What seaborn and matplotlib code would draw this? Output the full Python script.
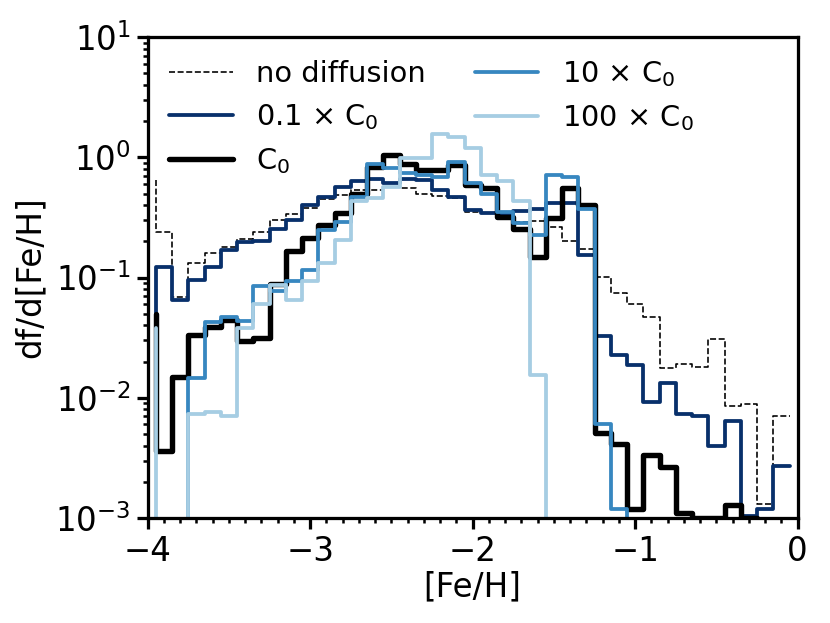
import numpy as np
import pandas as pd
import seaborn as sns
import matplotlib
matplotlib.use('Agg')
import matplotlib.pyplot as plt
from matplotlib.ticker import MultipleLocator

# step edges in [Fe/H]; first value of every series is the start point at -3.95
feh_edges = np.linspace(-3.95, -0.05, 40)

no_diffusion = [0.65, 0.24, 0.0695, 0.131, 0.159, 0.181, 0.209, 0.237, 0.301, 0.338,
                0.382, 0.448, 0.49, 0.53, 0.535, 0.57, 0.56, 0.50, 0.48, 0.456,
                0.353, 0.343, 0.311, 0.292, 0.296, 0.265, 0.203, 0.173, 0.102, 0.075,
                0.060, 0.0474, 0.0177, 0.0192, 0.0179, 0.031, 0.0085, 0.0089, 0.0013, 0.0070]
c0_01 = [0.04, 0.123, 0.065, 0.096, 0.122, 0.169, 0.199, 0.202, 0.254, 0.301,
         0.402, 0.471, 0.57, 0.635, 0.66, 0.615, 0.66, 0.65, 0.535, 0.471,
         0.365, 0.343, 0.335, 0.355, 0.37, 0.42, 0.42, 0.153, 0.0324, 0.0225,
         0.0186, 0.0093, 0.0132, 0.0074, 0.0071, 0.004, 0.0064, 0.00103, 0.0012, 0.0027]
c0_1 = [0.05, 0.0036, 0.015, 0.0334, 0.039, 0.044, 0.0294, 0.0313, 0.088, 0.167,
        0.212, 0.274, 0.343, 0.50, 0.835, 1.045, 0.875, 0.785, 0.785, 0.864,
        0.589, 0.552, 0.321, 0.254, 0.149, 0.311, 0.552, 0.40, 0.0051, 0.0041,
        0.00119, 0.00336, 0.00264, 0.0011, 0.00101, 0.001, 0.00129, 0.001, 0, 0]
c0_10 = [0, 0, 0, 0.0146, 0.043, 0.0474, 0.0437, 0.085, 0.0766, 0.093,
         0.116, 0.249, 0.29, 0.471, 0.875, 0.81, 0.736, 0.71, 0.69, 0.91,
         0.608, 0.50, 0.349, 0.283, 0.226, 0.71, 0.68, 0.37, 0.006, 0.0012,
         0, 0, 0, 0, 0, 0, 0, 0, 0, 0]
c0_100 = [0.038, 0, 0, 0.0073, 0.0076, 0.0070, 0.038, 0.06, 0.087, 0.065,
          0.093, 0.133, 0.205, 0.434, 0.462, 0.57, 0.98, 0.98, 1.55, 1.48,
          1.19, 0.71, 0.63, 0.434, 0.0155, 0, 0, 0, 0, 0,
          0, 0, 0, 0, 0, 0, 0, 0, 0, 0]

labels = ['no diffusion', '0.1 × C$_0$', 'C$_0$', '10 × C$_0$', '100 × C$_0$']
colors = ['black', '#08306b', 'black', '#3787c0', '#a6cde3']
widths = [0.9, 2.1, 3.0, 2.1, 2.1]
styles = ['--', '-', '-', '-', '-']

sns.set_style('ticks', rc={'axes.edgecolor': 'black', 'text.color': 'black',
                           'axes.labelcolor': 'black', 'xtick.color': 'black',
                           'ytick.color': 'black'})
plt.rcParams['font.family'] = ['DejaVu Sans']
plt.rcParams['font.size'] = 16

fig = plt.figure(figsize=(830 / 130, 623 / 130), dpi=130)
ax = fig.add_axes([0.178, 0.1685, 0.783, 0.772])

series = [no_diffusion, c0_01, c0_1, c0_10, c0_100]
for vals, lab, col, lw, ls in zip(series, labels, colors, widths, styles):
    df = pd.DataFrame({'feh': feh_edges, 'f': vals})
    sns.lineplot(data=df, x='feh', y='f', ax=ax, estimator=None, sort=False,
                 drawstyle='steps-pre', color=col, lw=lw, ls=ls, label=lab)

ax.set_yscale('log')
ax.set_xlim(-4, 0)
ax.set_ylim(1e-3, 10)
ax.xaxis.set_major_locator(MultipleLocator(1))
ax.xaxis.set_minor_locator(MultipleLocator(0.1))
ax.set_xlabel('[Fe/H]', fontsize=18, labelpad=1)
ax.set_ylabel('df/d[Fe/H]', fontsize=18, labelpad=5)
ax.tick_params(which='major', direction='out', length=6, width=1.8, labelsize=18)
ax.tick_params(which='minor', direction='out', length=3, width=1.4)
for sp in ax.spines.values():
    sp.set_linewidth(1.8)
    sp.set_visible(True)

ax.legend(ncol=2, frameon=False, loc='upper left', fontsize=16, borderaxespad=0.35,
          handlelength=2.2, handletextpad=0.8, columnspacing=1.7)

fig.savefig('out.png', dpi=130)
